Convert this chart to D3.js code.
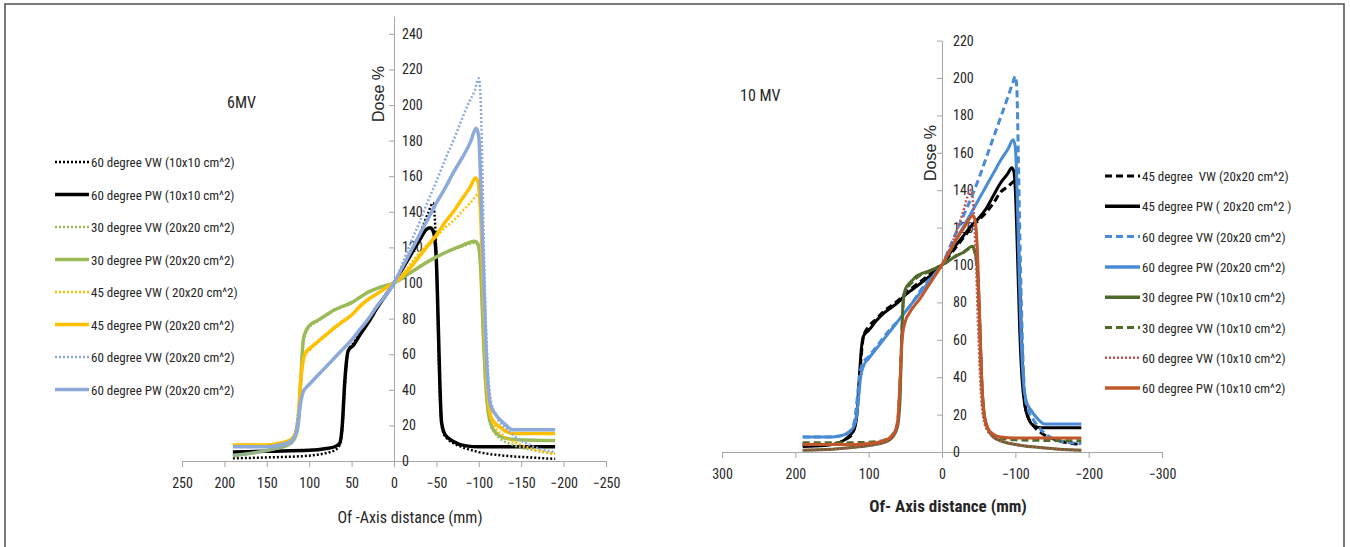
<!DOCTYPE html>
<html>
<head>
<meta charset="utf-8">
<script src="https://cdn.jsdelivr.net/npm/d3@7"></script>
<style>
  body { margin: 0; background: #fff; }
  svg text { font-family: "Liberation Sans Narrow", "Roboto Condensed", "DejaVu Sans Condensed", sans-serif; fill: #262626; }
  .ytitle { font-family: "Liberation Sans", Arial, sans-serif !important; }
</style>
</head>
<body>
<div id="chart"></div>
<script>
// ---------- data: 6 MV (left panel), [off-axis mm, dose %] ----------
var xTicks6 = [250, 200, 150, 100, 50, 0, -50, -100, -150, -200, -250];
var yTicks6 = [0, 20, 40, 60, 80, 100, 120, 140, 160, 180, 200, 220, 240];

var vw60_10_6 = [[190,1.5],[150,2],[100,3],[80,4.5],[70,6],[64,9],[61,18],[58,42],[54,62],[48,66],[40,72],[30,79],[20,86],[10,93],[0,100],[-10,108],[-20,117],[-30,127],[-40,139],[-46,145],[-49,128],[-51,95],[-53,55],[-55,28],[-58,16],[-64,12],[-72,9.5],[-85,7],[-100,5],[-130,3],[-160,2],[-190,1.2]];
var pw60_10_6 = [[190,5],[150,5.5],[100,6],[80,7],[70,8],[64,10],[61,20],[58,45],[54,62],[48,65],[40,71],[30,78],[20,86],[10,93],[0,100],[-10,108],[-20,116],[-30,124],[-38,130],[-43,131],[-47,128],[-50,112],[-52,80],[-54,45],[-56,22],[-60,15],[-70,11],[-85,8.5],[-100,8],[-190,8]];
var vw30_20_6 = [[190,3],[160,5],[140,7],[125,9],[118,12],[113,20],[110,45],[107,67],[104,72],[100,75],[90,78.5],[80,82],[70,85],[60,87],[50,89],[40,92],[30,95],[20,97],[10,98.5],[0,100],[-20,106],[-40,112],[-60,117],[-80,120.5],[-95,122.5],[-99,121],[-102,108],[-105,72],[-108,42],[-112,24],[-120,15],[-140,9],[-160,6.5],[-190,4]];
var pw30_20_6 = [[190,3],[160,5],[140,7],[125,9],[118,12],[113,20],[110,45],[107,68],[104,73],[100,76],[90,79],[80,82],[70,85],[60,87],[50,89],[40,92],[30,95],[20,97],[10,98.5],[0,100],[-20,106],[-40,112],[-60,117],[-80,121],[-95,123.5],[-99,122],[-102,110],[-105,75],[-108,45],[-112,25],[-118,17],[-130,13],[-145,12],[-190,11.5]];
var vw45_20_6 = [[190,9],[150,9],[135,10],[122,12],[116,16],[113,25],[110,43],[107,55],[104,60],[100,62],[90,66.5],[80,70.5],[70,74.5],[60,78],[50,82],[40,86.5],[30,90.5],[20,94],[10,97],[0,100],[-10,105],[-20,111],[-30,117],[-40,122],[-50,126],[-60,131],[-70,135],[-80,140],[-90,145],[-100,150],[-103,130],[-106,90],[-109,50],[-112,30],[-118,20],[-130,14],[-150,9],[-170,6],[-190,4]];
var pw45_20_6 = [[190,9],[150,9],[135,10],[122,12],[116,16],[113,25],[110,45],[107,57],[104,61],[100,63],[90,67],[80,71],[70,75],[60,78.5],[50,82],[40,87],[30,91],[20,94],[10,97],[0,100],[-10,104],[-20,109],[-30,115],[-40,121],[-50,127],[-60,134],[-70,140],[-80,147],[-90,154],[-96,159],[-99,157],[-102,140],[-105,100],[-108,60],[-111,35],[-115,24],[-125,19],[-140,15.5],[-190,15.5]];
var vw60_20_6 = [[190,3],[160,5],[140,7],[125,9],[118,12],[115,20],[112,30],[108,38],[104,41],[100,43],[90,48],[80,53],[70,58],[60,63],[50,68],[40,74],[30,80],[20,87],[10,93],[0,100],[-10,111],[-20,123],[-30,134],[-40,146],[-50,157],[-60,169],[-70,180],[-80,192],[-87,200],[-95,208],[-100,215],[-102,205],[-104,170],[-106,120],[-109,70],[-113,38],[-120,26],[-135,17],[-160,9],[-190,5]];
var pw60_20_6 = [[190,8],[150,8],[135,9],[122,11],[116,15],[113,22],[110,33],[107,39],[104,41],[100,43],[90,48],[80,53],[70,58],[60,63],[50,68],[40,74],[30,80],[20,87],[10,93],[0,100],[-10,109],[-20,118],[-30,127],[-40,136],[-50,145],[-60,153],[-70,162],[-80,170],[-90,179],[-97,187],[-100,182],[-102,160],[-105,115],[-108,70],[-111,42],[-114,31],[-120,26],[-130,21],[-140,17.5],[-190,17.5]];

// ---------- data: 10 MV (right panel) ----------
var xTicks10 = [300, 200, 100, 0, -100, -200, -300];
var yTicks10 = [0, 20, 40, 60, 80, 100, 120, 140, 160, 180, 200, 220];

var vw45_20_10 = [[190,4],[160,4],[140,5],[130,7],[122,10],[117,18],[113,35],[110,52],[107,62],[100,67],[90,71],[80,75],[70,78],[60,81],[50,85],[40,88],[30,91],[20,94],[10,97],[0,100],[-10,105],[-20,110],[-30,115],[-40,120],[-50,124],[-60,128],[-70,133],[-80,139],[-90,142],[-100,145],[-103,125],[-106,90],[-109,55],[-112,30],[-116,20],[-125,14],[-140,9],[-160,6],[-190,4]];
var pw45_20_10 = [[190,3],[160,3.5],[140,5],[128,8],[120,12],[116,20],[113,38],[110,55],[107,62],[103,64],[100,65],[90,70],[80,74],[70,77],[60,80],[50,84],[40,87],[30,90],[20,93],[10,96],[0,100],[-10,106],[-20,111],[-30,116],[-40,121],[-50,125],[-60,130],[-70,137],[-80,144],[-90,149],[-95,152],[-98,150],[-100,140],[-103,105],[-106,65],[-109,40],[-113,25],[-118,18],[-125,14],[-135,13],[-190,13]];
var vw60_20_10 = [[190,8],[160,8],[140,8.5],[130,10],[122,13],[118,20],[114,35],[111,44],[107,48],[100,51],[90,56],[80,61],[70,66],[60,70],[50,75],[40,80],[30,86],[20,91],[10,95],[0,100],[-10,109],[-20,118],[-30,127],[-40,136],[-50,146],[-60,157],[-70,168],[-80,179],[-90,190],[-97,198],[-100,201],[-102,195],[-104,160],[-107,100],[-110,55],[-113,30],[-118,22],[-125,17],[-140,10],[-160,6],[-190,4.5]];
var pw60_20_10 = [[190,8],[150,8],[135,9],[125,11],[118,16],[114,28],[111,40],[107,46],[100,50],[90,55],[80,60],[70,65],[60,70],[50,75],[40,80],[30,85],[20,90],[10,95],[0,100],[-10,107],[-20,114],[-30,121],[-40,128],[-50,135],[-60,142],[-70,149],[-80,156],[-90,162],[-97,167],[-100,163],[-102,145],[-105,100],[-108,60],[-111,38],[-115,27],[-122,22],[-130,18],[-140,15],[-190,15]];
var pw30_10_10 = [[190,1],[150,1.5],[120,2.5],[100,3.5],[80,5],[70,7],[64,10],[60,15],[57,30],[55,60],[53,80],[50,87],[45,90],[40,92],[35,94],[30,95],[20,96.5],[10,98],[0,100],[-10,102.5],[-20,105],[-30,107],[-38,109.5],[-42,110],[-45,107],[-48,100],[-51,75],[-54,40],[-57,22],[-62,13],[-70,8],[-80,6],[-100,4],[-130,2.5],[-160,1.5],[-190,1]];
var vw30_10_10 = [[190,5],[150,5],[120,5],[90,5.5],[75,7],[66,10],[61,15],[58,30],[55,60],[53,80],[50,86],[45,89],[40,91],[35,93],[30,94.5],[20,96],[10,98],[0,100],[-10,102.5],[-20,105],[-30,107],[-38,109],[-42,109.5],[-45,106],[-48,98],[-51,72],[-54,38],[-57,21],[-62,13],[-70,9],[-80,7.5],[-100,6.5],[-190,6]];
var vw60_10_10 = [[190,1],[150,1.5],[120,2.5],[100,3.5],[80,5],[70,7],[64,10],[60,18],[57,40],[54,62],[50,70],[45,74],[40,77],[30,82],[20,88],[10,94],[0,100],[-10,108],[-20,118],[-30,130],[-36,138],[-40,140],[-43,130],[-46,105],[-49,70],[-52,40],[-55,22],[-60,13],[-70,8],[-80,6],[-100,4],[-130,2.5],[-160,1.5],[-190,1]];
var pw60_10_10 = [[190,4],[150,4],[120,4],[100,4.5],[80,6],[70,8],[64,11],[60,18],[57,40],[54,62],[50,70],[45,74],[40,77],[30,82],[20,88],[10,94],[0,100],[-10,107],[-20,114],[-30,120],[-38,125],[-42,126.5],[-45,124],[-48,110],[-51,75],[-54,40],[-57,22],[-62,13],[-70,9.5],[-80,8],[-100,7.5],[-190,7.5]];

var series6 = [
  {name: "60 degree VW (10x10 cm^2)", values: vw60_10_6, color: "#000000", style: "dot"},
  {name: "60 degree PW (10x10 cm^2)", values: pw60_10_6, color: "#000000", style: "solid"},
  {name: "30 degree VW (20x20 cm^2)", values: vw30_20_6, color: "#9bbb59", style: "dot"},
  {name: "30 degree PW (20x20 cm^2)", values: pw30_20_6, color: "#9bbb59", style: "solid"},
  {name: "45 degree VW ( 20x20 cm^2)", values: vw45_20_6, color: "#ffc000", style: "dot"},
  {name: "45 degree PW (20x20 cm^2)", values: pw45_20_6, color: "#ffc000", style: "solid"},
  {name: "60 degree VW (20x20 cm^2)", values: vw60_20_6, color: "#8eaadb", style: "dot"},
  {name: "60 degree PW (20x20 cm^2)", values: pw60_20_6, color: "#8eaadb", style: "solid"}
];
var series10 = [
  {name: "45 degree  VW (20x20 cm^2)", values: vw45_20_10, color: "#000000", style: "dash"},
  {name: "45 degree PW ( 20x20 cm^2 )", values: pw45_20_10, color: "#000000", style: "solid"},
  {name: "60 degree VW (20x20 cm^2)", values: vw60_20_10, color: "#4a8bd6", style: "dash"},
  {name: "60 degree PW (20x20 cm^2)", values: pw60_20_10, color: "#4a8bd6", style: "solid"},
  {name: "30 degree PW (10x10 cm^2)", values: pw30_10_10, color: "#4f6a2a", style: "solid"},
  {name: "30 degree VW (10x10 cm^2)", values: vw30_10_10, color: "#4f6a2a", style: "dash"},
  {name: "60 degree VW (10x10 cm^2)", values: vw60_10_10, color: "#c0504d", style: "dot"},
  {name: "60 degree PW (10x10 cm^2)", values: pw60_10_10, color: "#c0582b", style: "solid"}
];

var W = 1350, H = 547;
var svg = d3.select("#chart").append("svg")
  .attr("width", W).attr("height", H);

// outer frame
svg.append("rect")
  .attr("x", 5).attr("y", 4).attr("width", 1339).attr("height", 580)
  .attr("fill", "none").attr("stroke", "#4d4d4d").attr("stroke-width", 1.5);

function styleLine(sel, d, big) {
  if (d.style == "solid") {
    sel.attr("stroke-width", big ? 3.5 : 3);
  } else if (d.style == "dot") {
    sel.attr("stroke-width", 2.5).attr("stroke-dasharray", "2,2");
  } else {
    sel.attr("stroke-width", 3).attr("stroke-dasharray", "7,4");
  }
}

function drawPanel(cfg) {
  var x = d3.scaleLinear().domain(cfg.xDomain).range(cfg.xRange);
  var y = d3.scaleLinear().domain(cfg.yDomain).range(cfg.yRange);
  var g = svg.append("g");

  // x axis
  var xa = g.append("g")
    .attr("transform", "translate(0," + y(0) + ")")
    .call(d3.axisBottom(x).tickValues(cfg.xTicks).tickSize(6).tickSizeOuter(0).tickPadding(11));
  xa.select(".domain").attr("stroke", "#a6a6a6");
  xa.selectAll(".tick line").attr("stroke", "#a6a6a6");
  xa.selectAll("text").style("font-size", "14px").attr("fill", "#262626");

  // y axis (labels sit right of the line)
  var ya = g.append("g")
    .attr("transform", "translate(" + x(0) + ",0)")
    .call(d3.axisRight(y).tickValues(cfg.yTicks).tickSize(0).tickSizeOuter(0).tickPadding(cfg.yPad));
  ya.select(".domain").attr("stroke", "#a6a6a6");
  ya.selectAll(".tick").append("line").attr("x1", -5).attr("x2", 0).attr("stroke", "#a6a6a6");
  ya.selectAll("text").style("font-size", "14px").attr("fill", "#262626");

  var line = d3.line()
    .x(function(d) { return x(d[0]); })
    .y(function(d) { return y(d[1]); })
    .curve(d3.curveMonotoneX);

  cfg.series.forEach(function(s) {
    var p = g.append("path").datum(s.values)
      .attr("d", line)
      .attr("fill", "none")
      .attr("stroke", s.color)
      .attr("stroke-linejoin", "round");
    styleLine(p, s, cfg.big);
  });

  // legend
  var lg = g.append("g");
  cfg.series.forEach(function(s, i) {
    var yy = cfg.legY + i * cfg.legStep;
    var l = lg.append("line")
      .attr("x1", cfg.legX).attr("x2", cfg.legX + cfg.legW)
      .attr("y1", yy).attr("y2", yy)
      .attr("stroke", s.color);
    styleLine(l, s, true);
    lg.append("text")
      .attr("x", cfg.legX + cfg.legW + 2).attr("y", yy + 5)
      .style("font-size", "13px")
      .style("white-space", "pre")
      .text(s.name);
  });

  // titles
  g.append("text").attr("x", cfg.title[0]).attr("y", cfg.title[1])
    .style("font-size", "16px").text(cfg.titleText);
  g.append("text").attr("class", "ytitle")
    .attr("transform", "translate(" + cfg.yTitle[0] + "," + cfg.yTitle[1] + ") rotate(-90)")
    .attr("text-anchor", "middle")
    .style("font-size", "16px").text("Dose %");
  g.append("text").attr("x", cfg.xTitle[0]).attr("y", cfg.xTitle[1])
    .attr("text-anchor", "middle")
    .style("font-size", cfg.xTitleSize).style("font-weight", cfg.xTitleWeight)
    .text(cfg.xTitleText);
}

drawPanel({
  series: series6, big: true,
  xDomain: [250, -250], xRange: [182, 606],
  yDomain: [0, 250], yRange: [461, 16],
  xTicks: xTicks6, yTicks: yTicks6, yPad: 8,
  legX: 55, legY: 162, legW: 34, legStep: 32.5,
  title: [227, 108], titleText: "6MV",
  yTitle: [384, 94],
  xTitle: [410, 523], xTitleText: "Of -Axis distance (mm)", xTitleSize: "16px", xTitleWeight: "normal"
});

drawPanel({
  series: series10, big: false,
  xDomain: [300, -300], xRange: [722, 1162],
  yDomain: [0, 220], yRange: [452, 40.6],
  xTicks: xTicks10, yTicks: yTicks10, yPad: 11,
  legX: 1105, legY: 176, legW: 35, legStep: 30.3,
  title: [740, 101], titleText: "10 MV",
  yTitle: [936, 153],
  xTitle: [948, 512], xTitleText: "Of- Axis distance (mm)", xTitleSize: "17px", xTitleWeight: "bold"
});
</script>
</body>
</html>
